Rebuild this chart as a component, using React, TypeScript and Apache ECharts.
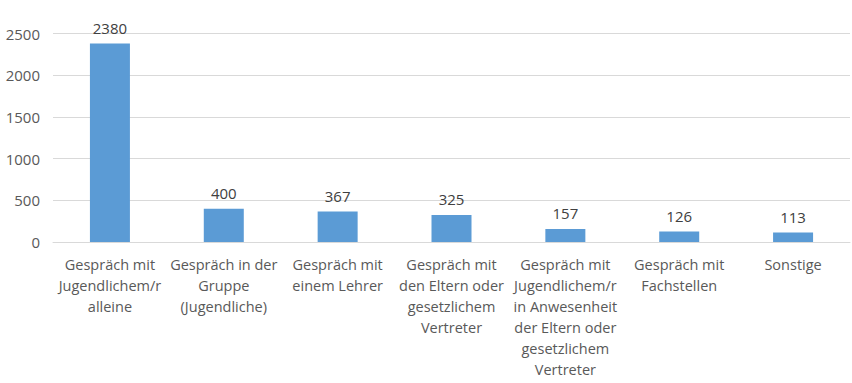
import React, { useEffect, useRef } from "react";
import * as echarts from "echarts";

const categories = [
  "Gespräch mit\nJugendlichem/r\nalleine",
  "Gespräch in der\nGruppe\n(Jugendliche)",
  "Gespräch mit\neinem Lehrer",
  "Gespräch mit\nden Eltern oder\ngesetzlichem\nVertreter",
  "Gespräch mit\nJugendlichem/r\nin Anwesenheit\nder Eltern oder\ngesetzlichem\nVertreter",
  "Gespräch mit\nFachstellen",
  "Sonstige",
];
const values = [2380, 400, 367, 325, 157, 126, 113];

export default function App() {
  const ref = useRef<HTMLDivElement>(null);
  useEffect(() => {
    const chart = echarts.init(ref.current!, null, { renderer: "svg" });
    chart.setOption({
      animation: false,
      textStyle: { fontFamily: "Open Sans" },
      grid: { left: 53, right: 2, top: 33.5, bottom: 141 },
      xAxis: {
        type: "category",
        data: categories,
        axisLine: { lineStyle: { color: "#d9d9d9" } },
        axisTick: { show: false },
        axisLabel: {
          color: "#595959",
          fontSize: 14.5,
          lineHeight: 21,
          margin: 12,
          interval: 0,
          align: "center",
        },
      },
      yAxis: {
        type: "value",
        min: 0,
        max: 2500,
        interval: 500,
        axisLine: { show: false },
        axisTick: { show: false },
        splitLine: { lineStyle: { color: "#d9d9d9" } },
        axisLabel: {
          color: "#595959",
          fontSize: 15,
          margin: 13,
          formatter: (v: number) => String(v),
        },
      },
      series: [
        {
          type: "bar",
          data: values,
          barWidth: 40,
          itemStyle: { color: "#5B9BD5" },
          label: {
            show: true,
            position: "top",
            color: "#404040",
            fontSize: 15,
            distance: 8,
          },
        },
      ],
    });
    return () => chart.dispose();
  }, []);
  return <div ref={ref} style={{ width: 852, height: 383, position: "absolute", left: 0, top: 0, background: "#fff" }} />;
}
